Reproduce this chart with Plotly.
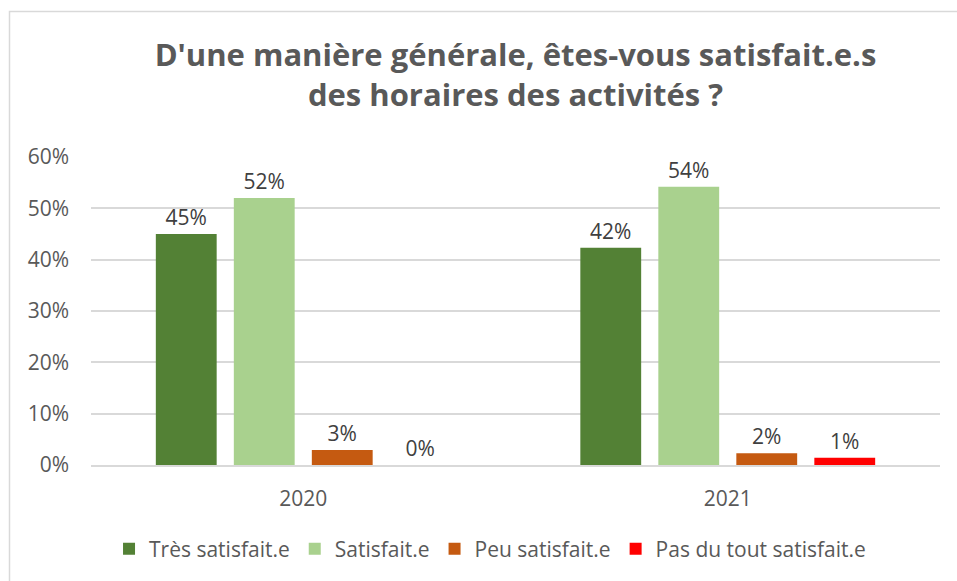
import plotly.graph_objects as go

years = ["2020", "2021"]
series_names = ["Très satisfait.e", "Satisfait.e", "Peu satisfait.e", "Pas du tout satisfait.e"]
tres_satisfait = [0.450, 0.423]
satisfait = [0.520, 0.542]
peu_satisfait = [0.029, 0.023]
pas_du_tout = [0.000, 0.014]
colors = ["#538135", "#A9D18E", "#C55A11", "#FF0000"]

title_text = "D'une manière générale, êtes-vous satisfait.e.s<br>des horaires des activités ?"
y_ticks = [0, 0.1, 0.2, 0.3, 0.4, 0.5, 0.6]

FONT = "Open Sans, Lato, sans-serif"

fig = go.Figure()
for name, vals, col in zip(series_names, [tres_satisfait, satisfait, peu_satisfait, pas_du_tout], colors):
    fig.add_trace(go.Bar(
        x=years, y=vals, name=name, marker=dict(color=col, line=dict(width=0)),
        texttemplate="%{y:.0%}", textposition="outside", cliponaxis=False,
        textfont=dict(size=21, color="#404040", family=FONT),
    ))

fig.update_layout(
    width=957, height=581,
    paper_bgcolor="white", plot_bgcolor="white",
    margin=dict(l=91, r=17, t=157, b=116),
    barmode="group", bargap=0.265, bargroupgap=0.22,
    title=dict(text="<b>" + title_text + "</b>", x=0.5, xanchor="center", xref="paper",
               yref="container", y=1 - 66 / 581, yanchor="top",
               font=dict(size=31, color="#595959", family=FONT)),
    font=dict(family=FONT, color="#595959"),
    xaxis=dict(showgrid=False, showline=True, linecolor="#D9D9D9", linewidth=1.5,
               ticks="", tickfont=dict(size=21, color="#595959"), ticklabelstandoff=14),
    yaxis=dict(range=[0, 0.6], tickvals=y_ticks, tickformat=".0%",
               showgrid=True, gridcolor="#D9D9D9", gridwidth=1.5,
               zeroline=False, showline=False, ticks="",
               tickfont=dict(size=21, color="#595959"), ticklabelstandoff=21),
    legend=dict(orientation="h", x=0.47, xanchor="center", y=-0.273, yanchor="middle",
                font=dict(size=21, color="#595959"), itemwidth=30, traceorder="normal"),
)

# chart-area frame (light gray border, extends past right/bottom edges)
fig.add_shape(type="rect", xref="paper", yref="paper",
              x0=(9.5 - 91) / 849, x1=(1000 - 91) / 849,
              y0=-1.0, y1=(581 - 11.5 - 116) / 308,
              line=dict(color="#D9D9D9", width=1.5), fillcolor="rgba(0,0,0,0)", layer="below")

fig.write_html("out.html", config={"displayModeBar": False},
               post_script="document.body.style.margin='0';")
